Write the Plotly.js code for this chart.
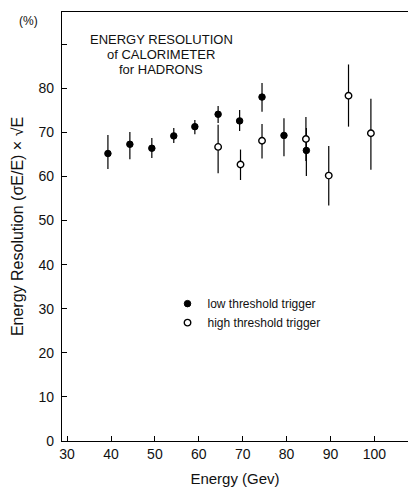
<!DOCTYPE html>
<html>
<head>
<meta charset="utf-8">
<script src="https://cdn.plot.ly/plotly-3.0.1.min.js"></script>
<style>html,body{margin:0;padding:0;background:#fff;}#chart{width:408px;height:489px;}</style>
</head>
<body>
<div id="chart"></div>
<script>
// Low threshold trigger (filled circles)
const lowEnergy = [39.3, 44.3, 49.3, 54.3, 59.1, 64.4, 69.3, 74.4, 79.4, 84.5];
const lowRes    = [65.2, 67.3, 66.4, 69.2, 71.3, 74.1, 72.6, 78.0, 69.3, 65.9];
const lowUpper  = [69.4, 70.1, 68.7, 71.0, 72.8, 76.0, 75.1, 81.2, 73.2, 71.0];
const lowLower  = [61.7, 63.9, 64.2, 67.6, 69.6, 72.1, 70.3, 74.7, 64.6, 60.1];

// High threshold trigger (open circles)
const highEnergy = [64.4, 69.5, 74.4, 84.4, 89.6, 94.1, 99.2];
const highRes    = [66.7, 62.7, 68.1, 68.5, 60.2, 78.3, 69.8];
const highUpper  = [71.7, 66.1, 71.9, 73.5, 66.9, 85.4, 77.6];
const highLower  = [60.7, 59.2, 64.1, 63.5, 53.4, 71.3, 61.5];

const xTicks = [30, 40, 50, 60, 70, 80, 90, 100];
const yTicks = [0, 10, 20, 30, 40, 50, 60, 70, 80, 90];
const yTickText = ['0', '10', '20', '30', '40', '50', '60', '70', '80', ''];

const FONT = 'Liberation Sans, Arial, Helvetica, sans-serif';

function errPlus(v, up) { return v.map((y, i) => up[i] - y); }
function errMinus(v, lo) { return v.map((y, i) => y - lo[i]); }

const traces = [
  {
    type: 'scatter', mode: 'markers', name: 'low threshold trigger',
    x: lowEnergy, y: lowRes,
    marker: {symbol: 'circle', size: 6.5, color: '#000', line: {color: '#000', width: 1}},
    error_y: {type: 'data', symmetric: false, array: errPlus(lowRes, lowUpper),
              arrayminus: errMinus(lowRes, lowLower), color: '#000', thickness: 1.2, width: 0}
  },
  {
    type: 'scatter', mode: 'markers', name: 'high threshold trigger',
    x: highEnergy, y: highRes,
    marker: {symbol: 'circle', size: 6.5, color: '#fff', line: {color: '#000', width: 1.4}},
    error_y: {type: 'data', symmetric: false, array: errPlus(highRes, highUpper),
              arrayminus: errMinus(highRes, highLower), color: '#000', thickness: 1.2, width: 0}
  }
];

const layout = {
  width: 408, height: 489,
  margin: {l: 62, r: 0, t: 12, b: 48, pad: 0},
  paper_bgcolor: '#fff', plot_bgcolor: '#fff',
  font: {family: FONT, color: '#111', size: 13},
  showlegend: true,
  legend: {x: 0.305, y: 0.354, xanchor: 'left', yanchor: 'top',
           font: {family: FONT, size: 12, color: '#111'},
           bgcolor: 'rgba(0,0,0,0)', tracegroupgap: 0, itemwidth: 30},
  xaxis: {
    range: [28.84, 107.65], tickvals: xTicks, ticktext: xTicks.map(String),
    ticks: 'inside', ticklen: 5, tickwidth: 1, tickcolor: '#000',
    showline: true, linecolor: '#000', linewidth: 1.2, mirror: true,
    showgrid: false, zeroline: false,
    tickfont: {family: FONT, size: 14, color: '#111'},
    title: {text: 'Energy (Gev)', font: {family: FONT, size: 15, color: '#111'}, standoff: 12}
  },
  yaxis: {
    range: [0, 97.3], tickvals: yTicks, ticktext: yTickText,
    ticks: 'inside', ticklen: 5, tickwidth: 1, tickcolor: '#000',
    showline: true, linecolor: '#000', linewidth: 1.2,
    showgrid: false, zeroline: false, ticklabelstandoff: 4,
    tickfont: {family: FONT, size: 14, color: '#111'},
    title: {text: 'Energy Resolution (σE/E) × √E', font: {family: FONT, size: 16, color: '#111'}, standoff: 10}
  },
  annotations: [
    {text: '(%)', xref: 'paper', yref: 'paper', x: -0.065, y: 0.98, xanchor: 'right', yanchor: 'middle',
     showarrow: false, font: {family: FONT, size: 12, color: '#111'}},
    {text: 'ENERGY RESOLUTION', xref: 'x', yref: 'y', x: 51.4, y: 91.0, showarrow: false,
     font: {family: FONT, size: 13, color: '#111'}},
    {text: 'of CALORIMETER', xref: 'x', yref: 'y', x: 51.4, y: 87.7, showarrow: false,
     font: {family: FONT, size: 13, color: '#111'}},
    {text: 'for HADRONS', xref: 'x', yref: 'y', x: 51.4, y: 84.2, showarrow: false,
     font: {family: FONT, size: 13, color: '#111'}}
  ]
};

Plotly.newPlot('chart', traces, layout, {displayModeBar: false, staticPlot: true});
</script>
</body>
</html>
